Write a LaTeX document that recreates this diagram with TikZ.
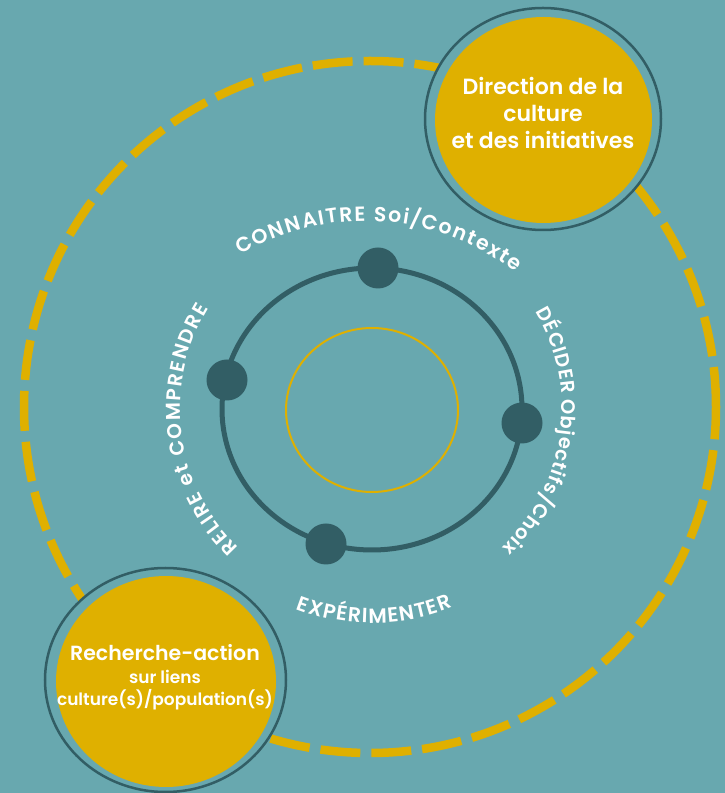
\documentclass[tikz,border=0pt]{standalone}
\usepackage{fontspec}
\setmainfont{Poppins}[BoldFont={Poppins SemiBold}]
\usetikzlibrary{shapes.geometric,decorations.text}
\definecolor{bg}{RGB}{104,168,175}
\definecolor{dark}{RGB}{50,94,101}
\definecolor{gold}{RGB}{223,176,0}
\def\arcsz{20}
\def\arctr{1pt}
\newcommand\arcfmt{\fontsize{\arcsz}{\arcsz}\selectfont\bfseries\color{white}\kern\arctr}
\begin{document}
\begin{tikzpicture}[x=1pt,y=1pt,
  dotnode/.style={circle, fill=dark, minimum size=41pt, inner sep=0pt},
  ringnode/.style={ellipse, draw=dark, line width=2.5pt, fill=bg, inner sep=0pt},
  discnode/.style={ellipse, fill=gold, inner sep=0pt},
  labeltext/.style={text=white, align=center},
  arclabel/.style={decorate, decoration={text along path, text align=center, text={|\arcfmt|#1}}},
]
\fill[bg] (0,0) rectangle (725,793);
\useasboundingbox (0,0) rectangle (725,793);
\coordinate (c) at (372,384);
\coordinate (ctop) at (365,326);
% outer dashed circle
\node[circle, draw=gold, line width=8.5pt, dash pattern=on 40pt off 11pt, minimum size=692pt, inner sep=0pt] (outer) at (370,386) {};
% cycle ring
\node[ellipse, draw=dark, line width=5pt, minimum width=300pt, minimum height=282pt, inner sep=0pt] (cycle) at (c) {};
\node[ellipse, draw=gold, line width=2pt, minimum width=172pt, minimum height=164pt, inner sep=0pt] (core) at (372,383) {};
% dots
\node[dotnode] (know) at (378,525) {};
\node[dotnode] (reread) at (227,413) {};
\node[dotnode] (decide) at (522,370) {};
\node[dotnode] (test) at (326,249) {};
% curved labels
\def\arcsz{20.5}\def\arctr{1.6pt}
\path[arclabel={CONNAITRE Soi/Contexte}]
  ([shift={(ctop)}]140:246) arc[start angle=140, end angle=33, radius=246];
\def\arcsz{19.5}\def\arctr{0.8pt}
\path[arclabel={DÉCIDER Objectifs/Choix}]
  ([shift={(c)}]45:190) arc[start angle=45, end angle=-61, radius=190];
\def\arcsz{20}\def\arctr{1.7pt}
\path[arclabel={RELIRE et COMPRENDRE}]
  ([shift={(c)}]240:192) arc[start angle=240, end angle=135, radius=192];
\def\arcsz{20.5}\def\arctr{1.2pt}
\path[arclabel={EXPÉRIMENTER}]
  ([shift={(c)}]235:214) arc[start angle=235, end angle=306, radius=214];
% top-right circle
\node[ringnode, minimum width=236pt, minimum height=222pt] (dirring) at (543,674) {};
\node[discnode, minimum width=217pt, minimum height=206pt] (dirdisc) at (543.5,673) {};
\node[labeltext, font=\bfseries\fontsize{22}{27}\selectfont] (dirtext) at (543,680)
  {Direction de la\\culture\\et des initiatives};
% bottom-left circle
\node[ringnode, minimum width=241pt, minimum height=224pt] (resring) at (165.5,113) {};
\node[discnode, minimum width=220pt, minimum height=211pt] (resdisc) at (166,111.5) {};
\node[labeltext, font=\bfseries\fontsize{17}{22}\selectfont] (restext) at (165,116)
  {{\fontsize{20.5}{23}\selectfont Recherche-action}\\[1.5pt]{\fontsize{17}{22}\selectfont sur liens}\\{\fontsize{17}{22}\selectfont culture(s)/population(s)}};
\end{tikzpicture}
\end{document}
